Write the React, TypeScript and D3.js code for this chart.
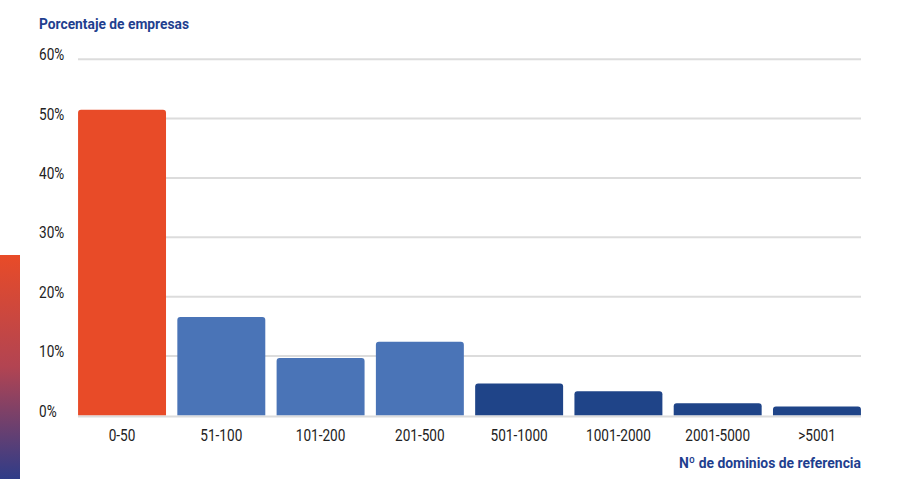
import React from "react";
import * as d3 from "d3";

const categories = ["0-50", "51-100", "101-200", "201-500", "501-1000", "1001-2000", "2001-5000", ">5001"];
const values = [51.5, 16.6, 9.7, 12.4, 5.4, 4.1, 2.05, 1.5];
const groups = ["top", "mid", "mid", "mid", "low", "low", "low", "low"];
const yTicks = [0, 10, 20, 30, 40, 50, 60];
const yTitle = "Porcentaje de empresas";
const xTitle = "Nº de dominios de referencia";

const colors: Record<string, string> = { top: "#e84b28", mid: "#4a74b7", low: "#1f4488" };

export default function App() {
  const W = 900, H = 479;
  const x = d3.scaleBand<string>().domain(categories).range([72.4, 866.6]).paddingInner(0.114).paddingOuter(0.057);
  const y = d3.scaleLinear().domain([0, 60]).range([415.5, 59.2]);
  const r = 3;
  const sx = 0.85;
  const barPath = (x0: number, w: number, y0: number, y1: number) => {
    const p = d3.path();
    p.moveTo(x0, y1);
    p.lineTo(x0, y0 + r);
    p.arcTo(x0, y0, x0 + r, y0, r);
    p.lineTo(x0 + w - r, y0);
    p.arcTo(x0 + w, y0, x0 + w, y0 + r, r);
    p.lineTo(x0 + w, y1);
    p.closePath();
    return p.toString();
  };
  const font = "Roboto, 'Noto Sans', sans-serif";
  return (
    <svg width={W} height={H} style={{ position: "absolute", left: 0, top: 0 }} fontFamily={font}>
      <defs>
        <linearGradient id="side" x1="0" y1="0" x2="0" y2="1">
          <stop offset="0" stopColor="#e84b28" />
          <stop offset="0.5" stopColor="#b24452" />
          <stop offset="1" stopColor="#2f3c88" />
        </linearGradient>
      </defs>
      <rect x={0} y={255} width={20} height={H - 255} fill="url(#side)" />
      <text x={39} y={28.5} fontSize={15.5} fontWeight={700} fill="#1f3f8f" textLength={150} lengthAdjust="spacingAndGlyphs">{yTitle}</text>
      {yTicks.map((t) => (
        <g key={t}>
          {t > 0 && <line x1={78} x2={861} y1={y(t)} y2={y(t)} stroke="#dcdcdc" strokeWidth={2} />}
          <text transform={`translate(39,${y(t) + 1}) scale(${sx},1)`} fontSize={16} fill="#222">{t}%</text>
        </g>
      ))}
      {categories.map((c, i) => (
        <path key={c} d={barPath(x(c)!, x.bandwidth(), y(values[i]), y(0))} fill={colors[groups[i]]} />
      ))}
      <line x1={78} x2={861} y1={y(0) + 1} y2={y(0) + 1} stroke="#dcdcdc" strokeWidth={2} />
      {categories.map((c) => (
        <text key={c} transform={`translate(${x(c)! + x.bandwidth() / 2},441) scale(${sx},1)`} fontSize={16} fill="#222" textAnchor="middle">{c}</text>
      ))}
      <text x={861} y={467.5} fontSize={15.5} fontWeight={700} fill="#1f3f8f" textAnchor="end" textLength={182} lengthAdjust="spacingAndGlyphs">{xTitle}</text>
    </svg>
  );
}
